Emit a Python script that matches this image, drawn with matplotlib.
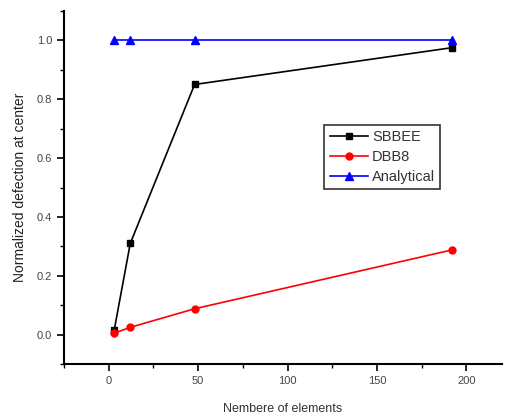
import matplotlib
matplotlib.use("Agg")
import matplotlib.pyplot as plt
from matplotlib.ticker import MultipleLocator

plt.rcParams['font.family'] = ['Liberation Sans', 'DejaVu Sans']

# 数据
elements = [3, 12, 48, 192]
sbbee = [0.015, 0.31, 0.85, 0.975]
dbb8 = [0.005, 0.025, 0.088, 0.288]
analytical = [1.0, 1.0, 1.0, 1.0]

fig = plt.figure(figsize=(5.05, 4.19), dpi=100)
ax = fig.add_axes([0.127, 0.131, 0.867, 0.843])

ax.plot(elements, sbbee, color="black", marker="s", markersize=5, linewidth=1.2, label="SBBEE")
ax.plot(elements, dbb8, color="red", marker="o", markersize=5, linewidth=1.2, label="DBB8")
ax.plot(elements, analytical, color="blue", marker="^", markersize=5.5, linewidth=1.2, label="Analytical")

ax.set_xlim(-25, 220)
ax.set_ylim(-0.1, 1.1)
ax.xaxis.set_major_locator(MultipleLocator(50))
ax.xaxis.set_minor_locator(MultipleLocator(25))
ax.yaxis.set_minor_locator(MultipleLocator(0.1))
ax.set_yticks([0.0, 0.2, 0.4, 0.6, 0.8, 1.0])
ax.set_yticklabels(["0.0", "0.2", "0.4", "0.6", "0.8", "1.0"])

for side in ["top", "right"]:
    ax.spines[side].set_visible(False)
for side in ["left", "bottom"]:
    ax.spines[side].set_linewidth(1.5)

ax.tick_params(which="major", direction="out", length=5, width=1.2, labelsize=8, labelcolor="#444444")
ax.tick_params(which="minor", direction="out", length=3, width=1.0)

ax.set_xlabel("Nembere of elements", fontsize=9, color="#333333", labelpad=12)
ax.set_ylabel("Normalized defection at center", fontsize=10, color="#222222", labelpad=7)

leg = ax.legend(loc="lower left", bbox_to_anchor=(0.578, 0.475), fontsize=10.5,
                frameon=True, fancybox=False, edgecolor="black", handlelength=2.6,
                borderpad=0.35, labelspacing=0.4, handletextpad=0.3)
leg.get_frame().set_linewidth(1.2)
for t in leg.get_texts():
    t.set_color("#333333")

fig.savefig("out.png", dpi=100)
